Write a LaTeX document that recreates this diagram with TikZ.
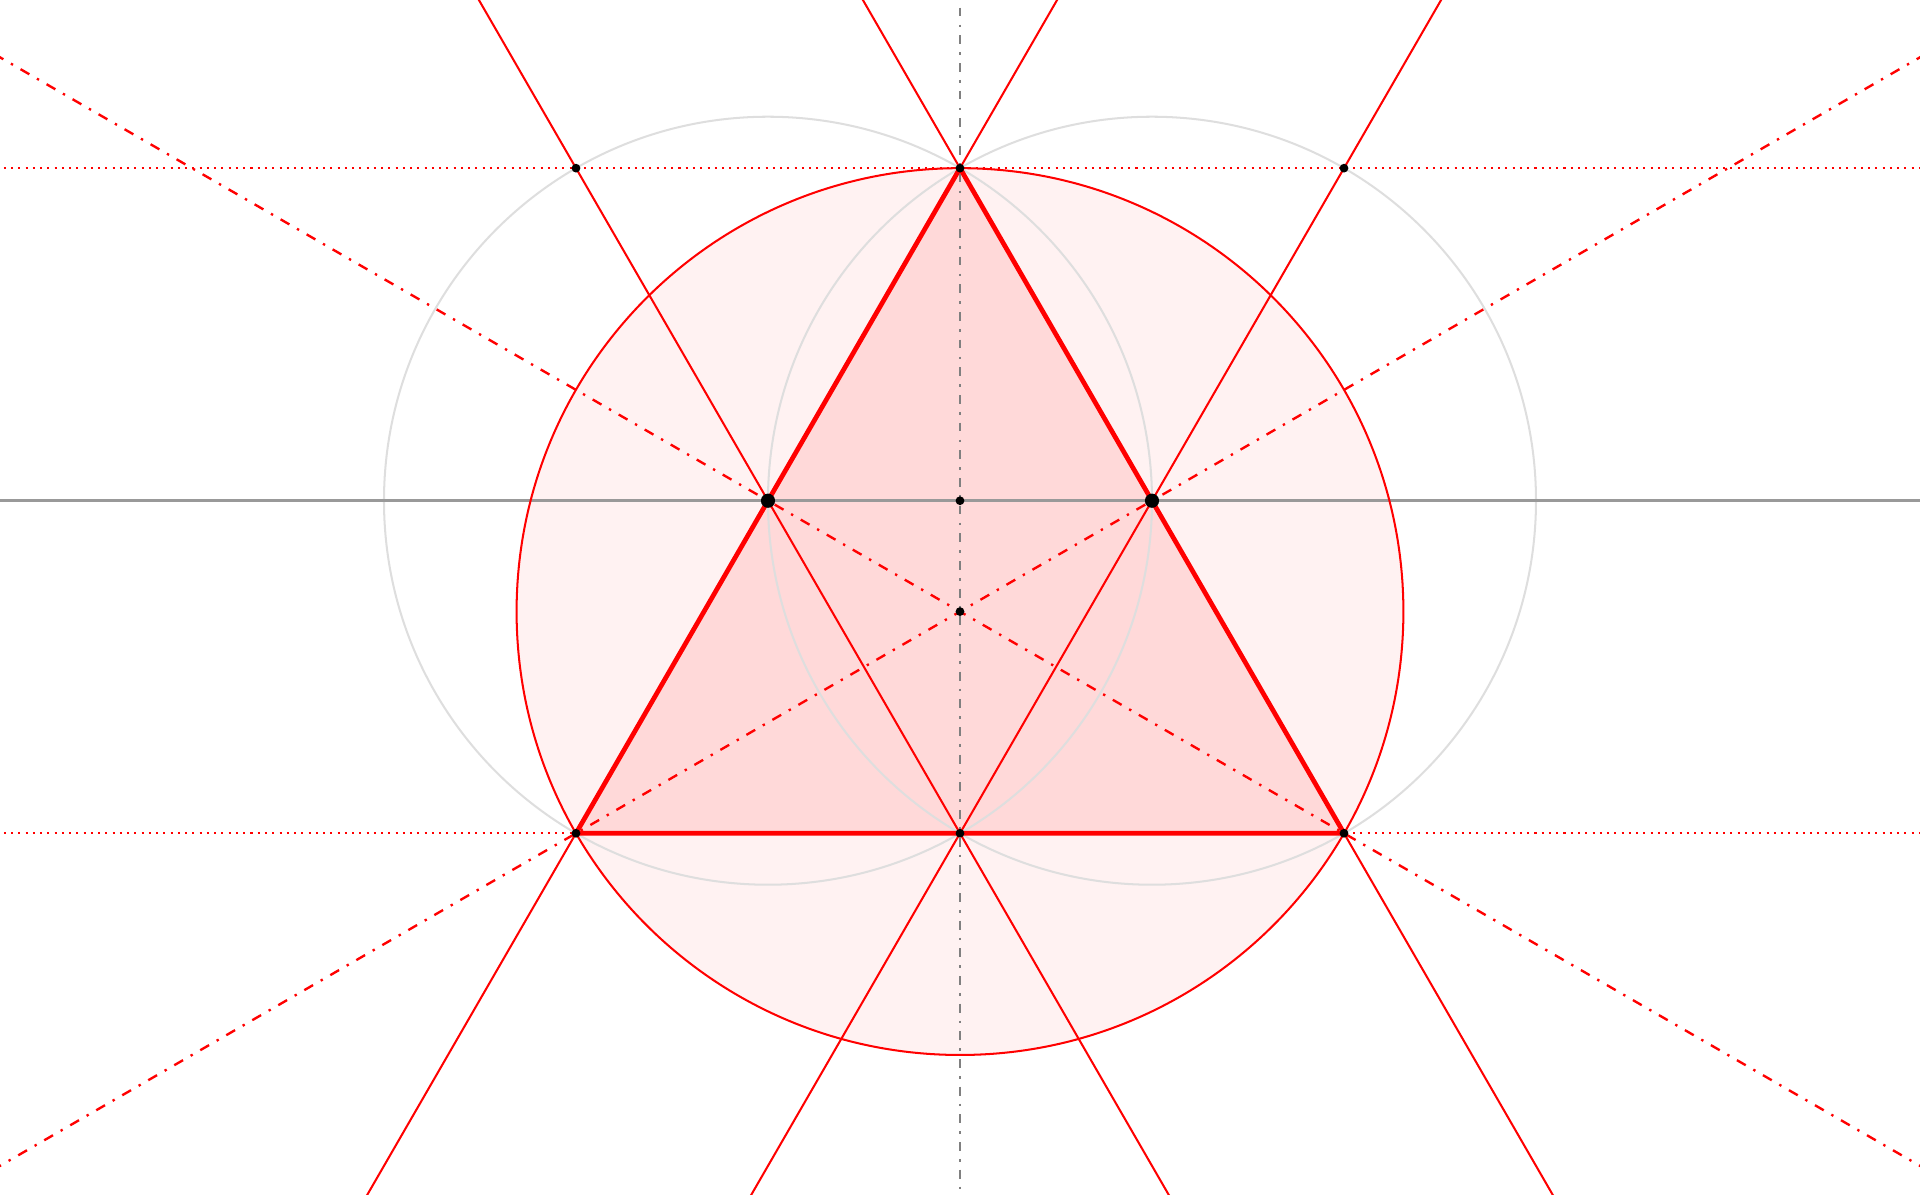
\documentclass[tikz,border=0pt]{standalone}
\usetikzlibrary{calc}
\begin{document}
\begin{tikzpicture}[x=2cm,y=2cm,
  redline/.style={draw=red, line width=0.6pt},
  redthick/.style={draw=red, line width=1.4pt, line join=round},
  reddash/.style={draw=red, line width=0.7pt, dash pattern=on 3pt off 2.6pt on 0.7pt off 2.6pt},
  reddot/.style={draw=red, line width=0.6pt, dash pattern=on 0.6pt off 1.55pt},
  greyline/.style={draw=black!40, line width=0.9pt},
  greydash/.style={draw=black!50, line width=0.8pt, dash pattern=on 2.6pt off 2.4pt on 0.8pt off 2.4pt},
  greycirc/.style={draw=black!13, line width=0.6pt},
  smalldot/.style={circle, fill=black, inner sep=0pt, minimum size=2.6pt},
  bigdot/.style={circle, fill=black, inner sep=0pt, minimum size=4.2pt}]
\useasboundingbox (-5,-3.611) rectangle (5,2.608);
\clip (-5,-3.611) rectangle (5,2.608);
% key points
\coordinate (T) at (0,1.7320508);
\coordinate (L) at (-2,-1.7320508);
\coordinate (R) at (2,-1.7320508);
\coordinate (M) at (0,-1.7320508);
\coordinate (A) at (-1,0);
\coordinate (B) at (1,0);
\coordinate (O) at (0,0);
\coordinate (G) at (0,-0.5773503);
\coordinate (P1) at (-2,1.7320508);
\coordinate (P2) at (2,1.7320508);
% fills
\fill[red!5] (G) circle (2.3094011);
\fill[red!15] (T) -- (L) -- (R) -- cycle;
% grey circles
\draw[greycirc] (A) circle (2);
\draw[greycirc] (B) circle (2);
% grey axes
\draw[greyline] ($(O)+(-6,0)$) -- ($(O)+(6,0)$);
\draw[greydash] ($(O)+(0,3)$) -- ($(O)+(0,-4)$);
% red dotted horizontals
\draw[reddot] ($(T)+(-6,0)$) -- ($(T)+(6,0)$);
\draw[reddot] ($(M)+(-6,0)$) -- ($(M)+(6,0)$);
% circumcircle
\draw[redline] (G) circle (2.3094011);
% red solid lines
\draw[redline] ($(T)!-2!(L)$) -- ($(L)!-2!(T)$);
\draw[redline] ($(T)!-2!(R)$) -- ($(R)!-2!(T)$);
\draw[redline] ($(P1)!-2!(M)$) -- ($(M)!-2!(P1)$);
\draw[redline] ($(P2)!-2!(M)$) -- ($(M)!-2!(P2)$);
% red dash-dot lines
\draw[reddash] ($(L)!-3!(B)$) -- ($(B)!-3!(L)$);
\draw[reddash] ($(R)!-3!(A)$) -- ($(A)!-3!(R)$);
% triangle
\draw[redthick] (T) -- (L) -- (R) -- cycle;
% dots
\node[smalldot] (nT) at (T) {};
\node[smalldot] (nL) at (L) {};
\node[smalldot] (nR) at (R) {};
\node[smalldot] (nM) at (M) {};
\node[smalldot] (nO) at (O) {};
\node[smalldot] (nG) at (G) {};
\node[smalldot] (nP1) at (P1) {};
\node[smalldot] (nP2) at (P2) {};
\node[bigdot] (nA) at (A) {};
\node[bigdot] (nB) at (B) {};
\end{tikzpicture}
\end{document}
